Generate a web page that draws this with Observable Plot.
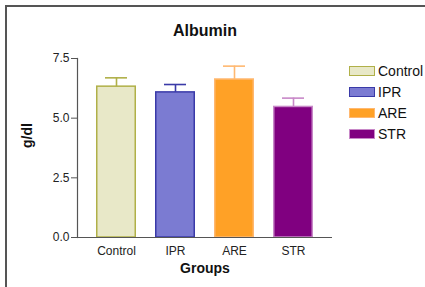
<!DOCTYPE html>
<html>
<head>
<meta charset="utf-8">
<script src="https://cdn.jsdelivr.net/npm/d3@7"></script>
<script src="https://cdn.jsdelivr.net/npm/@observablehq/plot@0.6"></script>
<style>
  html, body { margin: 0; padding: 0; background: #fff; }
  #wrap { position: relative; width: 425px; height: 287px; overflow: hidden; font-family: "Liberation Sans", Arial, sans-serif; }
  #frame { position: absolute; left: 5px; top: 5px; width: 440px; height: 300px; border-left: 2px solid #555; border-top: 2px solid #555; box-sizing: border-box; pointer-events: none; }
  #legend { position: absolute; left: 349px; top: 60px; }
  .item { display: flex; align-items: center; height: 21px; font-size: 14px; color: #111; }
  .sw { width: 26px; height: 10px; box-sizing: border-box; border: 1.5px solid; margin-right: 3px; }
  svg { position: absolute; left: 0; top: 0; }
</style>
</head>
<body>
<div id="wrap"><div id="frame"></div><div id="legend"></div></div>
<script>
const groups = ["Control", "IPR", "ARE", "STR"];
const means = [6.32, 6.08, 6.62, 5.47];
const errors = [0.37, 0.33, 0.56, 0.37];
const fills = ["#e8e8c8", "#7b7bd2", "#ffa126", "#800080"];
const strokes = ["#b0b048", "#3a3aa8", "#ffb870", "#c888c8"];
const yTicks = [0, 2.5, 5.0, 7.5];
const title = "Albumin";
const xLabel = "Groups";
const yLabel = "g/dl";

const data = groups.map((g, i) => ({ group: g, mean: means[i], err: errors[i], top: means[i] + errors[i] }));
const strokeOf = (d) => strokes[groups.indexOf(d.group)];

const chart = Plot.plot({
  width: 425,
  height: 287,
  marginLeft: 77,
  marginRight: 93,
  marginTop: 58,
  marginBottom: 50,
  style: { fontFamily: "Liberation Sans, Arial, sans-serif", fontSize: "12px", color: "#222", background: "transparent" },
  x: { domain: groups, padding: 0.32, label: null, axis: null },
  y: { domain: [0, 7.5], ticks: yTicks, tickFormat: d3.format(".1f"), label: null, axis: null },
  color: { domain: groups, range: fills },
  marks: [
    Plot.tickY(data, { x: "group", y: "top", stroke: strokeOf, strokeWidth: 1.6, insetLeft: 9, insetRight: 9 }),
    Plot.barY(data, { x: "group", y: "mean", fill: "group", stroke: strokeOf, strokeWidth: 1.5, insetLeft: 0.75, insetRight: 0.75 }),
    Plot.ruleX(data, { x: "group", y1: "mean", y2: "top", stroke: strokeOf, strokeWidth: 1.6 }),
    Plot.axisY({ ticks: yTicks, tickFormat: d3.format(".1f"), tickSize: 6, tickPadding: 2, fontSize: 12, label: null, stroke: "#555", color: "#222" }),
    Plot.frame({ anchor: "left", stroke: "#555", strokeWidth: 1.2 }),
    Plot.ruleY([0], { stroke: "#555", strokeWidth: 1.2 }),
    Plot.axisX({ tickSize: 0, tickPadding: 9, fontSize: 12, label: null, color: "#222" }),
    Plot.text([title], { frameAnchor: "top", lineAnchor: "middle", dy: -28, fontSize: 16, fontWeight: "bold", fill: "#111" }),
    Plot.text([xLabel], { frameAnchor: "bottom", lineAnchor: "middle", dy: 31, fontSize: 14, fontWeight: "bold", fill: "#111" }),
    Plot.text([yLabel], { frameAnchor: "left", dx: -50, rotate: -90, fontSize: 14, fontWeight: "bold", fill: "#111" })
  ]
});

document.getElementById("wrap").appendChild(chart);

const legend = document.getElementById("legend");
groups.forEach((g, i) => {
  const item = document.createElement("div");
  item.className = "item";
  const sw = document.createElement("div");
  sw.className = "sw";
  sw.style.background = fills[i];
  sw.style.borderColor = strokes[i];
  item.appendChild(sw);
  const t = document.createElement("span");
  t.textContent = g;
  item.appendChild(t);
  legend.appendChild(item);
});
</script>
</body>
</html>
